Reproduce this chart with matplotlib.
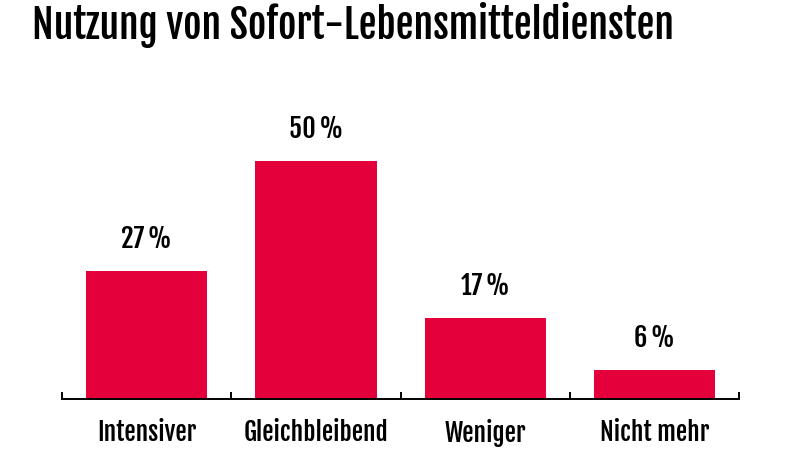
import matplotlib
matplotlib.use("Agg")
import matplotlib.pyplot as plt

categories = ["Intensiver", "Gleichbleibend", "Weniger", "Nicht mehr"]
shares = [27, 50, 17, 6]

plt.rcParams["font.family"] = ["Fjalla One", "Oswald", "DejaVu Sans"]

fig = plt.figure(figsize=(8.11, 4.56), dpi=100)
ax = fig.add_axes([0.0765, 0.1228, 0.835, 0.626])

x = range(len(categories))
bars = ax.bar(x, shares, width=0.715, color="#e3003b", zorder=2)
for b, v in zip(bars, shares):
    ax.annotate(f"{v}\u2009%", (b.get_x() + b.get_width() / 2, v), xytext=(0, 17.3),
                textcoords="offset points", ha="center", va="baseline", fontsize=19)

ax.set_xlim(-0.5, 3.5)
ax.set_ylim(0, 60)
ax.set_xticks([i + 0.5 for i in range(-1, 4)])
ax.set_xticklabels([])
ax.set_xticks(list(x), minor=True)
ax.set_xticklabels(categories, minor=True, fontsize=18.3)
ax.tick_params(axis="x", which="major", direction="in", length=5, width=1.4)
ax.tick_params(axis="x", which="minor", length=0, pad=14)
ax.set_yticks([])
for s in ["top", "right", "left"]:
    ax.spines[s].set_visible(False)
ax.spines["bottom"].set_linewidth(1.4)

fig.text(0.039, 0.9145, "Nutzung von Sofort-Lebensmitteldiensten", fontsize=28.6,
         va="baseline", ha="left")

fig.savefig("out.png", dpi=100)
